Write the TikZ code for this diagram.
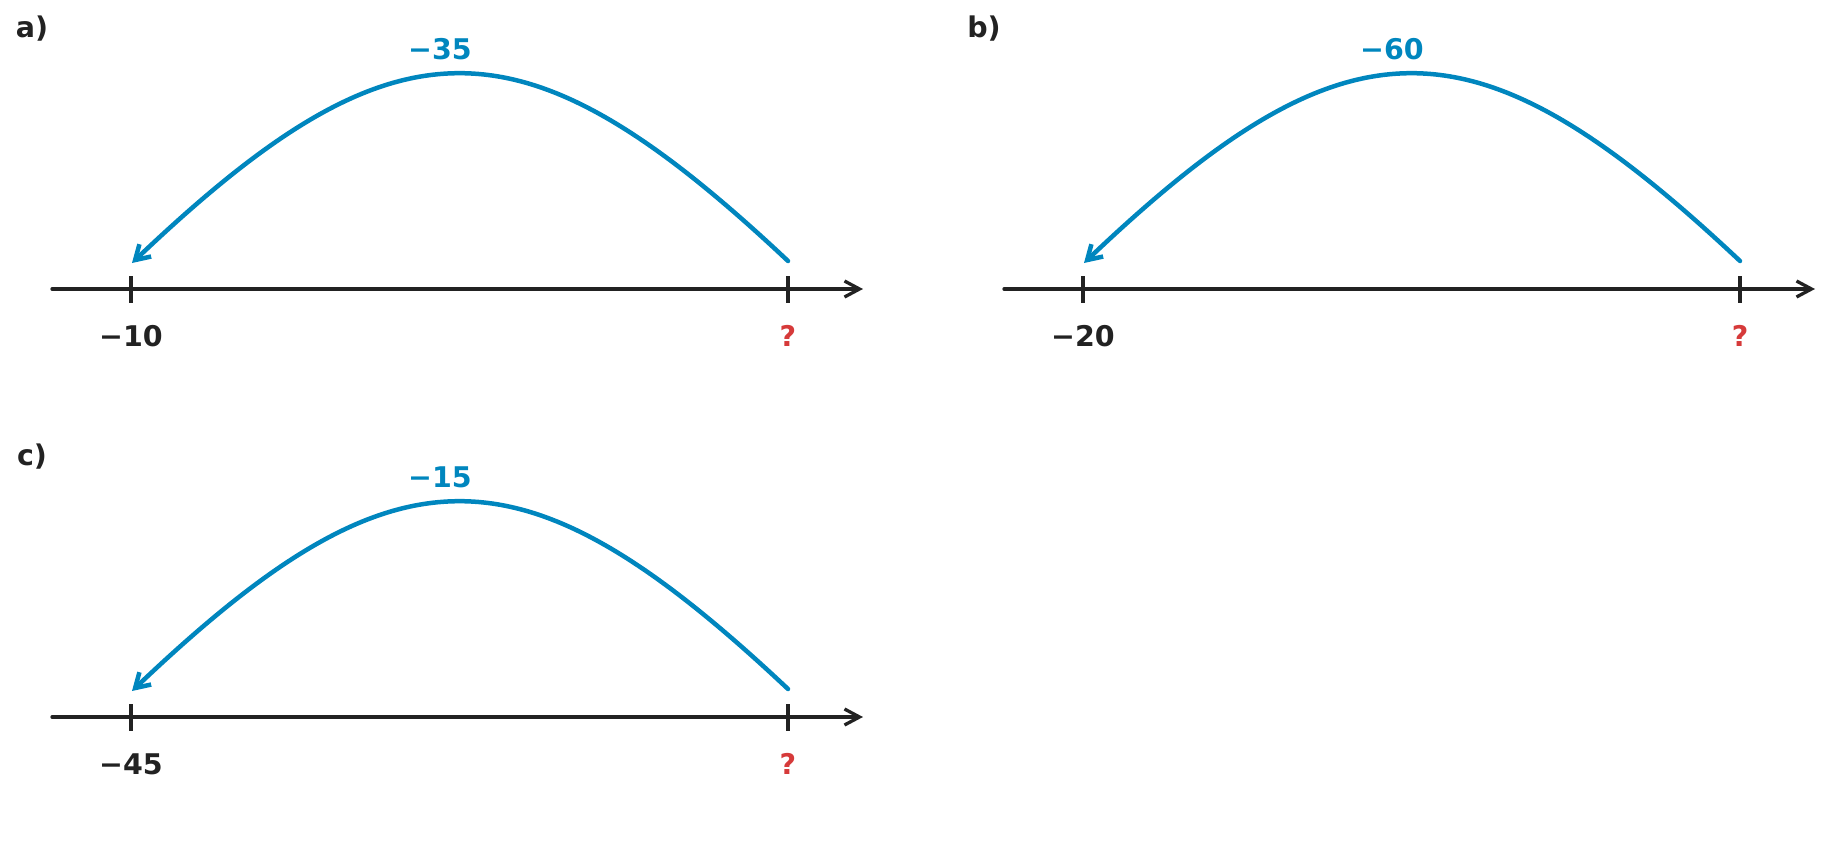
\documentclass[tikz,border=0pt]{standalone}
\usepackage{fontspec}
\setmainfont{DejaVu Sans}
\usetikzlibrary{arrows.meta}
\definecolor{ink}{RGB}{34,34,34}
\definecolor{jumpblue}{RGB}{0,134,190}
\definecolor{qred}{RGB}{214,58,58}
\tikzset{
  txt/.style={font=\fontsize{28.5}{33}\selectfont\bfseries, inner sep=0pt},
  paneltag/.style={txt, text=ink},
  numlabel/.style={txt, text=ink},
  qlabel/.style={txt, text=qred},
  jumplabel/.style={txt, text=jumpblue},
  axisline/.style={draw=ink, line width=3.3pt, line cap=round,
    -{Straight Barb[length=15pt, width=16pt, line width=3.3pt]}},
  tickmark/.style={draw=ink, line width=3.5pt},
  jumparc/.style={draw=jumpblue, line width=4.5pt, line cap=round,
    -{Straight Barb[length=14pt, width=17pt, line width=4.5pt]}},
}
\newcommand{\jumppanel}[6]{%
  \begin{scope}[shift={(#2,#3)}]
    \node[paneltag] (#1tag) at (32,29) {#4};
    \coordinate (#1axl) at (52,289);
    \coordinate (#1axr) at (863,289);
    \draw[axisline] (#1axl) -- (#1axr);
    \coordinate (#1tAa) at (131,276);
    \coordinate (#1tAb) at (131,303);
    \coordinate (#1tBa) at (788,276);
    \coordinate (#1tBb) at (788,303);
    \draw[tickmark] (#1tAa) -- (#1tAb);
    \draw[tickmark] (#1tBa) -- (#1tBb);
    \node[numlabel] (#1nA) at (131,336) {#5};
    \node[qlabel] (#1nB) at (788,336) {?};
    \node[jumplabel] (#1jl) at (440,49) {#6};
    \coordinate (#1s) at (788,261);
    \coordinate (#1e) at (132,263);
    \draw[jumparc] (#1s) .. controls (522,11) and (397,11) .. (#1e);
  \end{scope}%
}
\begin{document}
\begin{tikzpicture}[x=1pt,y=-1pt]
  \useasboundingbox (0,0) rectangle (1848,844);
  \jumppanel{a}{0}{0}{a)}{−10}{−35}
  \jumppanel{b}{952}{0}{b)}{−20}{−60}
  \jumppanel{c}{0}{428}{c)}{−45}{−15}
\end{tikzpicture}
\end{document}
